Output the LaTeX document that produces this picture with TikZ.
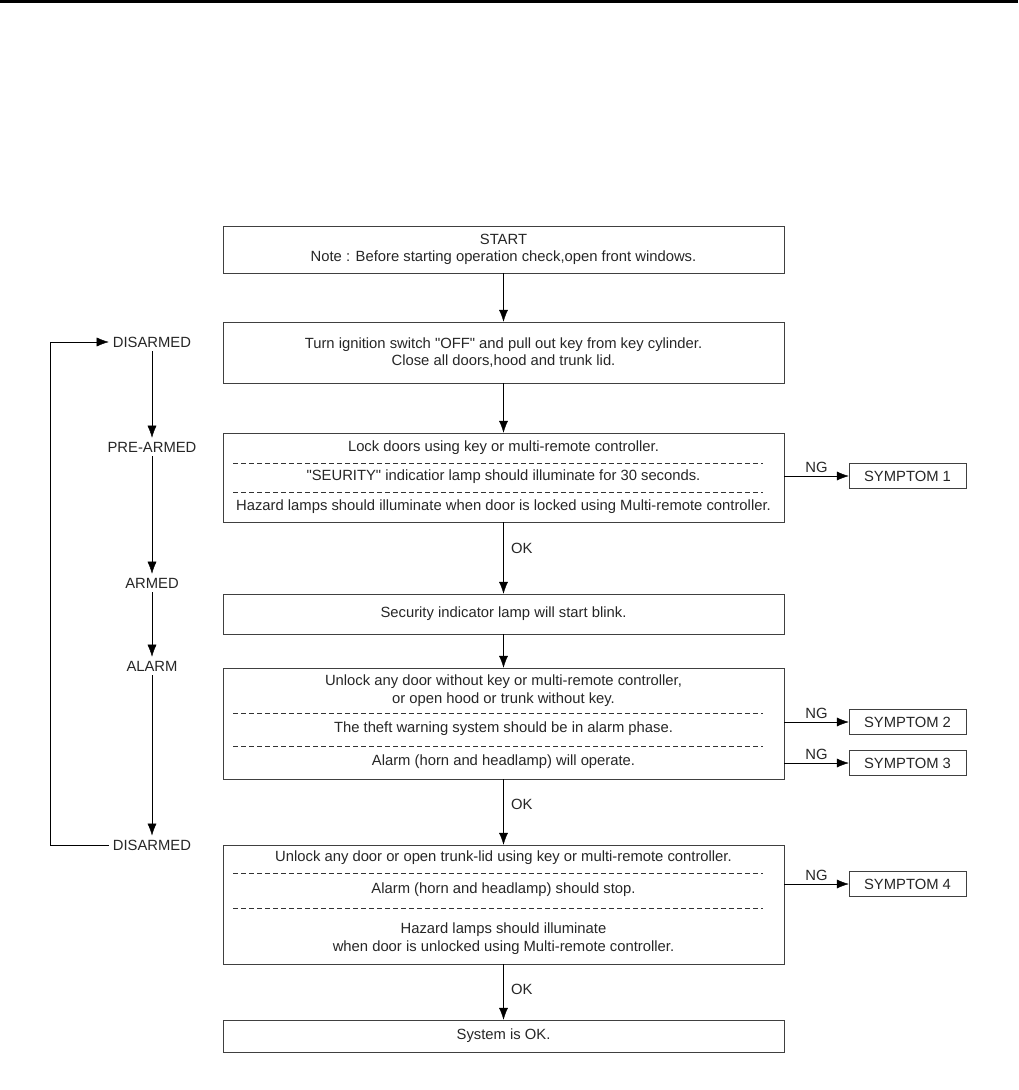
\documentclass[tikz,border=0pt]{standalone}
\usepackage{fontspec}
\setmainfont{Liberation Sans}[Ligatures=TeXOff]
\usetikzlibrary{arrows.meta}

\begin{document}
\begin{tikzpicture}[x=1pt, y=-1pt, >={Latex[length=12pt,width=9pt]}, every node/.style={font=\fontsize{14.8}{17.5}\selectfont, text=black!85}]
        \tikzstyle{stepbox} = [rectangle, draw=black!75, minimum width=561pt, inner sep=0pt, align=center]
        \tikzstyle{symbox} = [rectangle, draw=black!75, minimum width=117pt, minimum height=25pt, inner sep=0pt]
        \tikzstyle{sep} = [draw=black!80, dash pattern=on 5pt off 3pt]
        \tikzstyle{state} = [inner sep=4pt]
        \useasboundingbox (0,0) rectangle (1018,1090);
        \fill (0,0) rectangle (1018,3);
        % main column
        \node [stepbox, minimum height=47pt] (start) at (503.5,249.5) {START\\Note : Before starting operation check,open front windows.};
        \node [stepbox, minimum height=61pt] (turn) at (503.5,352.5) {Turn ignition switch "OFF" and pull out key from key cylinder.\\Close all doors,hood and trunk lid.};
        \node [stepbox, minimum height=89pt] (lock) at (503.5,477.5) {};
        \node (lock1) at (503.5,448) {Lock doors using key or multi-remote controller.};
        \node (lock2) at (503.5,477) {"SEURITY" indicatior lamp should illuminate for 30 seconds.};
        \node (lock3) at (503.5,507) {Hazard lamps should illuminate when door is locked using Multi-remote controller.};
        \draw [sep] (233,463) -- (763,463); \draw [sep] (233,492) -- (763,492);
        \node [stepbox, minimum height=40pt] (sec) at (503.5,614) {Security indicator lamp will start blink.};
        \node [stepbox, minimum height=111pt] (unl) at (503.5,723.5) {};
        \node [align=center] (unl1) at (503.5,690.5) {Unlock any door without key or multi-remote controller,\\or open hood or trunk without key.};
        \node (unl2) at (503.5,729) {The theft warning system should be in alarm phase.};
        \node (unl3) at (503.5,762) {Alarm (horn and headlamp) will operate.};
        \draw [sep] (233,713) -- (763,713); \draw [sep] (233,746) -- (763,746);
        \node [stepbox, minimum height=119pt] (stop) at (503.5,904.5) {};
        \node (stop1) at (503.5,858) {Unlock any door or open trunk-lid using key or multi-remote controller.};
        \node (stop2) at (503.5,890) {Alarm (horn and headlamp) should stop.};
        \node [align=center] (stop3) at (503.5,938.5) {Hazard lamps should illuminate\\when door is unlocked using Multi-remote controller.};
        \draw [sep] (233,873) -- (763,873); \draw [sep] (233,908) -- (763,908);
        \node [stepbox, minimum height=32pt] (ok) at (503.5,1036) {System is OK.};
        \draw [->] (start) -- (turn); \draw [->] (turn) -- (lock);
        \draw [->] (lock) -- node [pos=0.36, right, xshift=4pt] {OK} (sec);
        \draw [->] (sec) -- (unl);
        \draw [->] (unl) -- node [pos=0.38, right, xshift=4pt] {OK} (stop);
        \draw [->] (stop) -- node [pos=0.46, right, xshift=4pt] {OK} (ok);
        % symptoms
        \node [symbox] (sym1) at (907.5,476) {SYMPTOM 1};
        \node [symbox] (sym2) at (907.5,722) {SYMPTOM 2};
        \node [symbox] (sym3) at (907.5,763) {SYMPTOM 3};
        \node [symbox] (sym4) at (907.5,884) {SYMPTOM 4};
        \draw [->] (lock.east |- sym1.west) -- node [above] {NG} (sym1);
        \draw [->] (unl.east |- sym2.west) -- node [above] {NG} (sym2);
        \draw [->] (unl.east |- sym3.west) -- node [above] {NG} (sym3);
        \draw [->] (stop.east |- sym4.west) -- node [above] {NG} (sym4);
        % states
        \node [state] (dis1) at (152,342) {DISARMED};
        \node [state] (pre) at (152,447) {PRE-ARMED};
        \node [state] (arm) at (152,583) {ARMED};
        \node [state] (alm) at (152,666) {ALARM};
        \node [state] (dis2) at (152,845) {DISARMED};
        \draw [->] (dis1) -- (pre); \draw [->] (pre) -- (arm); \draw [->] (arm) -- (alm); \draw [->] (alm) -- (dis2);
        \coordinate (lpb) at (50,845); \coordinate (lpt) at (50,342);
        \draw [->] (dis2.west) -- (lpb) -- (lpt) -- (dis1.west);
\end{tikzpicture}
\end{document}
